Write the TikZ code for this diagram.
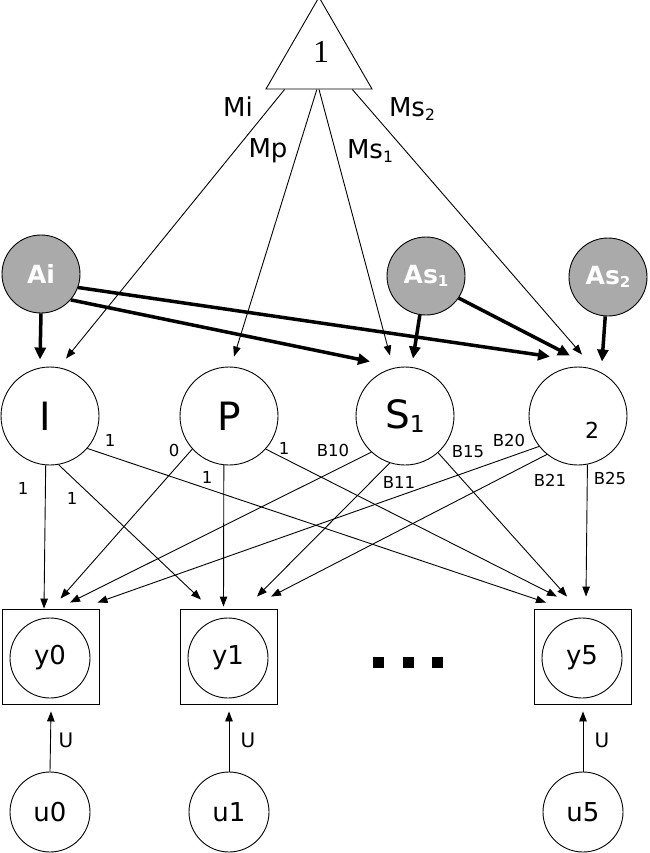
\documentclass[tikz,border=0pt]{standalone}
\usepackage{fontspec}
\setmainfont{DejaVu Sans}
\newfontfamily\serifnum{Liberation Serif}
\usetikzlibrary{arrows.meta,shapes.geometric,calc}
\newcommand\subsc[1]{\raisebox{-0.12em}{\scalebox{0.6}{#1}}}
\definecolor{greyfill}{RGB}{170,170,170}
\begin{document}
\begin{tikzpicture}[x=1pt,y=-1pt,
  lat/.style={draw, circle, minimum size=98pt, inner sep=0pt, line width=0.9pt, font=\fontsize{39}{39}\selectfont},
  gry/.style={draw, circle, fill=greyfill, minimum size=78pt, inner sep=0pt, line width=0.9pt, text=white, font=\bfseries\fontsize{25}{25}\selectfont},
  obsbox/.style={draw, rectangle, minimum width=97pt, minimum height=95pt, inner sep=0pt, line width=0.9pt},
  obs/.style={draw, circle, minimum size=80pt, inner sep=0pt, line width=0.9pt, font=\fontsize{26}{26}\selectfont},
  lab/.style={inner sep=0pt, font=\fontsize{16.5}{16.5}\selectfont},
  ulab/.style={inner sep=0pt, font=\fontsize{20}{20}\selectfont},
  mlab/.style={inner sep=0pt, anchor=base, font=\fontsize{26}{26}\selectfont},
  arr/.style={-{Triangle[length=10pt,width=7.5pt]}, line width=0.9pt},
  thk/.style={-{Triangle[length=12pt,width=11pt]}, line width=3.5pt},
  sqdot/.style={fill=black, minimum size=11pt, inner sep=0pt}
]
\useasboundingbox (0,0) rectangle (649,853);

% triangle
\node[draw, regular polygon, regular polygon sides=3, minimum size=122.4pt, inner sep=0pt, line width=0.9pt] (T) at (319,58.4) {};
\node[inner sep=0pt, font=\serifnum\fontsize{32}{32}\selectfont] (T1) at (321,52) {1};

% grey nodes
\node[gry] (Ai) at (41,274) {Ai};
\node[gry] (As1) at (426,276) {As\subsc{1}};
\node[gry] (As2) at (608,277) {As\subsc{2}};

% latent row
\node[lat] (I) at (50,416) {\hspace*{-10pt}I};
\node[lat] (P) at (229,416) {P};
\node[lat] (S1) at (405,416) {S\subsc{1}};
\node[lat] (N2) at (578,416) {};
\node[inner sep=0pt, font=\fontsize{22}{22}\selectfont] (N2t) at (592,430) {2};

% observed
\node[obsbox] (B0) at (50.5,656.5) {};
\node[obs] (y0) at (50,658) {y0};
\node[obsbox] (B1) at (228.5,656.5) {};
\node[obs] (y1) at (228,658) {y1};
\node[obsbox] (B5) at (582.5,656.5) {};
\node[obs] (y5) at (582,658) {y5};

\node[sqdot] (d1) at (378.5,662.5) {};
\node[sqdot] (d2) at (408,662.5) {};
\node[sqdot] (d3) at (437,662.5) {};

% residuals
\node[obs] (u0) at (50,812) {u0};
\node[obs] (u1) at (229,812) {u1};
\node[obs] (u5) at (583,812) {u5};

% top labels
\node[mlab] (lMi) at (238,117) {Mi};
\node[mlab] (lMp) at (268,158) {Mp};
\node[mlab] (lMs1) at (370,159) {Ms\subsc{1}};
\node[mlab] (lMs2) at (412,117) {Ms\subsc{2}};

% thin arrows from triangle
\draw[arr] ($(T.corner 2)!0.18!(T.corner 3)$) -- ($(I.north)+(16,-8)$);
\draw[arr] ($(T.corner 2)!0.48!(T.corner 3)$) -- ($(P.north)+(5,-10)$);
\draw[arr] ($(T.corner 2)!0.50!(T.corner 3)$) -- ($(S1.north)+(-15,-11)$);
\draw[arr] ($(T.corner 2)!0.81!(T.corner 3)$) -- ($(N2.north)+(4,-12)$);

% thick arrows
\draw[thk] (Ai.south) -- ($(I.north)+(-10,-7)$);
\draw[thk] (Ai.-41) -- ($(S1.north)+(-35,-5)$);
\draw[thk] (Ai.-20) -- ($(N2.north)+(-28,-10)$);
\draw[thk] (As1.-99) -- ($(S1.north)+(8,-8)$);
\draw[thk] (As1.-34.5) -- ($(N2.north)+(-8,-11)$);
\draw[thk] (As2.-94) -- ($(N2.north)+(24,-5)$);

% loadings
\draw[arr] (I.-95.8) -- ($(B0.north)+(-6.5,0)$);
\draw[arr] (I.-80.7) -- ($(B1.north)+(-27.5,-9)$);
\draw[arr] (I.-41.7) -- ($(B5.north)+(-36.5,-6)$);
\draw[arr] (P.-138.2) -- ($(B0.north)+(10,-10)$);
\draw[arr] (P.-96.4) -- ($(B1.north)+(-5,-2)$);
\draw[arr] (P.-42.5) -- ($(B5.north)+(-25.5,-12)$);
\draw[arr] (S1.-133.4) -- ($(B0.north)+(19.5,-6)$);
\draw[arr] (S1.-108.8) -- ($(B1.north)+(28.5,-12)$);
\draw[arr] (S1.-48.9) -- ($(B5.north)+(-15.5,-12)$);
\draw[arr] (N2.-142.2) -- ($(B0.north)+(47,-6)$);
\draw[arr] (N2.-129.4) -- ($(B1.north)+(42.5,-12)$);
\draw[arr] (N2.-79.6) -- ($(B5.north)+(3.5,-12)$);

% residual arrows
\draw[arr] (u0.north) -- ($(B0.south)+(0.5,7)$);
\draw[arr] (u1.north) -- ($(B1.south)+(0.5,7)$);
\draw[arr] (u5.north) -- ($(B5.south)+(0.5,7)$);

% loading labels
\node[lab] (l1) at (110,440) {1};
\node[lab] (l2) at (23,488) {1};
\node[lab] (l3) at (72,498) {1};
\node[lab] (l4) at (174,450) {0};
\node[lab] (l5) at (284,448) {1};
\node[lab] (l6) at (207,477) {1};
\node[lab] (l7) at (333,450) {B10};
\node[lab] (l8) at (468,452) {B15};
\node[lab] (l9) at (399,482) {B11};
\node[lab] (l10) at (509,440) {B20};
\node[lab] (l11) at (550,480) {B21};
\node[lab] (l12) at (610,478) {B25};

\node[ulab] (U0) at (66,740) {U};
\node[ulab] (U1) at (248,740) {U};
\node[ulab] (U5) at (602,740) {U};
\end{tikzpicture}
\end{document}
